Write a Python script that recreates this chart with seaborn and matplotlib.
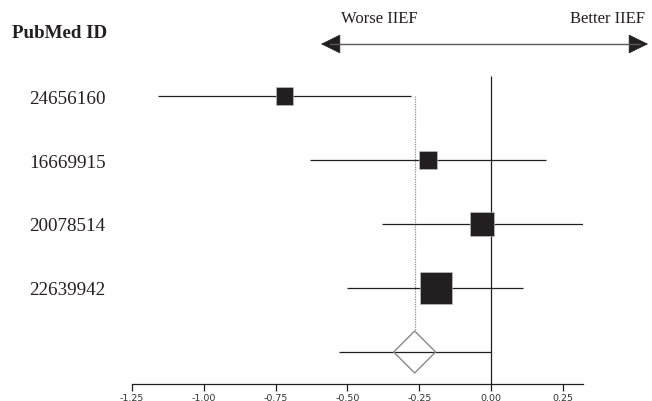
import matplotlib
matplotlib.use("Agg")
import matplotlib.pyplot as plt
from matplotlib.patches import FancyArrowPatch
from matplotlib.lines import Line2D
import seaborn as sns
import pandas as pd

# study-level data
pubmed_ids = ["24656160", "16669915", "20078514", "22639942"]
effect = [-0.72, -0.22, -0.03, -0.19]
ci_low = [-1.16, -0.63, -0.38, -0.50]
ci_high = [-0.28, 0.19, 0.32, 0.11]
weight = [13.1, 14.6, 26.0, 46.3]

# pooled estimate
pooled = -0.266
pooled_low = -0.339
pooled_high = -0.193
pred_low = -0.53
pred_high = 0.0

xticks = [-1.25, -1.00, -0.75, -0.50, -0.25, 0.00, 0.25]

df = pd.DataFrame({"id": pubmed_ids, "effect": effect, "low": ci_low,
                   "high": ci_high, "weight": weight,
                   "row": range(len(pubmed_ids))})

sns.set_style("white")
plt.rcParams["font.family"] = ["DejaVu Sans"]

dark = "#231f20"
serif = ["Liberation Serif", "DejaVu Serif"]

fig = plt.figure(figsize=(6.52, 4.02), dpi=100)
ax = fig.add_axes([132 / 652, 17 / 402, 451 / 652, 384 / 402])

# confidence interval lines
ax.hlines(df["row"], df["low"], df["high"], color=dark, lw=0.9, zorder=2)

# weighted squares
sns.scatterplot(data=df, x="effect", y="row", size="weight",
                sizes=(0, (32 * 0.72) ** 2), size_norm=(0, max(weight)),
                marker="s", color=dark, edgecolor="#c8c8c8", linewidth=0.4,
                legend=False, ax=ax, zorder=3)

# pooled row
n = len(pubmed_ids)
ax.hlines(n, pred_low, pred_high, color=dark, lw=0.9, zorder=2)
h = 21 / 64
ax.fill([pooled_low, pooled, pooled_high, pooled],
        [n, n - h, n, n + h], facecolor="none", edgecolor="#8a8a8a",
        lw=1.0, zorder=3)
ax.vlines(pooled, 0, n - h, color="#8a8a8a", lw=0.9, ls=(0, (1, 1)), zorder=1)

# line of no effect
ax.vlines(0, -0.31, n + 0.5, color=dark, lw=0.9, zorder=1)

ax.set_xlim(-1.25, 0.32)
ax.set_ylim(n + 0.5, -1.5)
ax.set_xticks(xticks)
ax.set_xticklabels([f"{t:.2f}" for t in xticks])
ax.tick_params(axis="x", bottom=True, direction="out", length=5, width=0.9,
               color=dark, labelsize=6.8, labelcolor="#333333", pad=1.5)
ax.set_yticks(list(range(n)))
ax.set_yticklabels(pubmed_ids, fontfamily=serif, fontsize=13.7, color=dark)
ax.tick_params(axis="y", left=False, length=0, pad=19)
ax.set_xlabel("")
ax.set_ylabel("")
for s in ["top", "left", "right"]:
    ax.spines[s].set_visible(False)
ax.spines["bottom"].set_color(dark)
ax.spines["bottom"].set_linewidth(0.9)

# header
fig.text(60 / 652, 1 - 34 / 402, "PubMed ID", ha="center", va="center",
         fontfamily=serif, fontsize=13.7, fontweight="bold", color=dark)
fig.text(379 / 652, 1 - 19 / 402, "Worse IIEF", ha="center", va="center",
         fontfamily=serif, fontsize=12, color=dark)
fig.text(607 / 652, 1 - 19 / 402, "Better IIEF", ha="center", va="center",
         fontfamily=serif, fontsize=12, color=dark)
arrow_y = 1 - 45 / 402
fig.add_artist(Line2D([330 / 652, 640 / 652], [arrow_y, arrow_y],
                      transform=fig.transFigure, color="#5a5a5a", lw=1.0))
for x_start, x_end in ((340 / 652, 321 / 652), (630 / 652, 648 / 652)):
    fig.add_artist(FancyArrowPatch(
        (x_start, arrow_y), (x_end, arrow_y), transform=fig.transFigure,
        arrowstyle="-|>,head_length=0.65,head_width=0.32", mutation_scale=20,
        edgecolor=dark, facecolor=dark, lw=0.5, shrinkA=0, shrinkB=0))

fig.savefig("out.png", dpi=100)
